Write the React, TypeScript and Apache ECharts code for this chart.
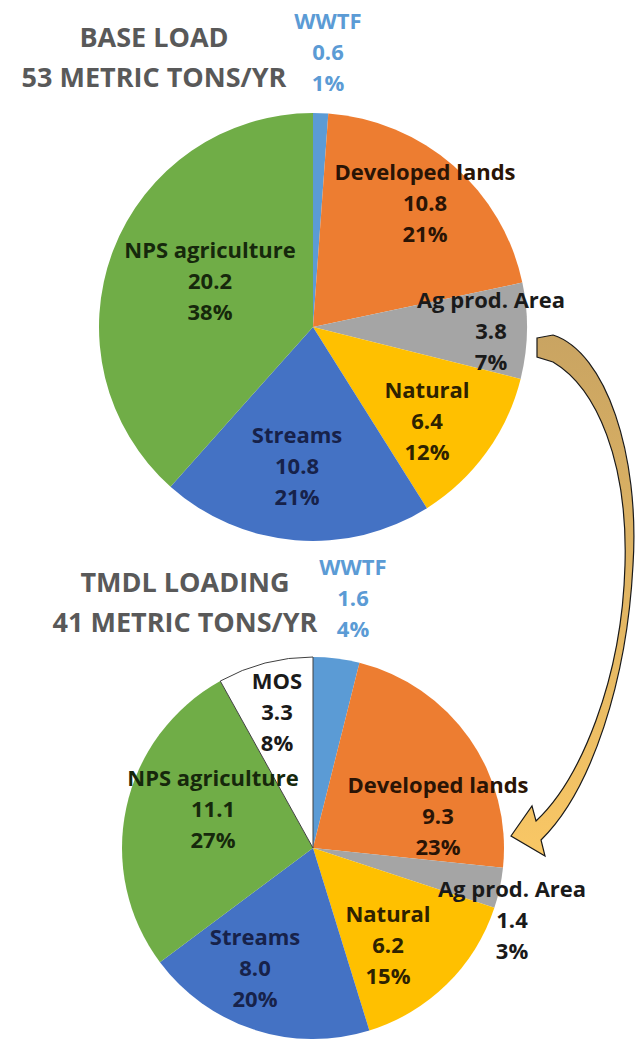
import React, { useEffect, useRef } from "react";
import * as echarts from "echarts";

// ---- data ----
const baseNames = ["WWTF", "Developed lands", "Ag prod. Area", "Natural", "Streams", "NPS agriculture"];
const baseValues = [0.6, 10.8, 3.8, 6.4, 10.8, 20.2];
const tmdlNames = ["WWTF", "Developed lands", "Ag prod. Area", "Natural", "Streams", "NPS agriculture", "MOS"];
const tmdlValues = [1.6, 9.3, 1.4, 6.2, 8.0, 11.1, 3.3];
const baseTitle = ["BASE LOAD", "53 METRIC TONS/YR"];
const tmdlTitle = ["TMDL LOADING", "41 METRIC TONS/YR"];

// ---- styles / layout ----
const sliceColors: Record<string, string> = {
  "WWTF": "#5B9BD5",
  "Developed lands": "#ED7D31",
  "Ag prod. Area": "#A5A5A5",
  "Natural": "#FFC000",
  "Streams": "#4472C4",
  "NPS agriculture": "#70AD47",
  "MOS": "#FFFFFF",
};
const labelColors: Record<string, string> = {
  "WWTF": "#5B9BD5",
  "Developed lands": "#2a1405",
  "Ag prod. Area": "#1a1a1a",
  "Natural": "#2e2200",
  "Streams": "#17224a",
  "NPS agriculture": "#16280c",
  "MOS": "#1a1a1a",
};
// label anchor points (absolute px), per series
const baseLabelPos: number[][] = [[328, 51], [425, 202], [491, 330], [427, 420], [297, 465], [210, 280]];
const tmdlLabelPos: number[][] = [[353, 597], [438, 815], [512, 919], [388, 944], [255, 967], [213, 808], [277, 711]];

const FONT = "'Open Sans', 'Noto Sans', sans-serif";
const ARROW_D =
  "M537 338 L553 335 C606 352 640 455 633 565 C627 680 592 790 541 840 L545 856 L511 836 L532 806 L536 821 C580 780 622 680 625 565 C628 462 597 388 553 362 L537 357 Z";

let registered = false;

function makeSeries(names: string[], values: number[], center: number[], radius: number, pos: number[][]) {
  return {
    type: "pie",
    center,
    radius,
    startAngle: 90,
    clockwise: true,
    silent: true,
    avoidLabelOverlap: false,
    label: {
      show: true,
      position: "inside",
      fontFamily: FONT,
      fontWeight: "bold",
      fontSize: 22,
      lineHeight: 31,
      align: "center",
      verticalAlign: "middle",
      formatter: (p: any) => `${p.name}\n${Number(p.value).toFixed(1)}\n${Math.round(p.percent)}%`,
    },
    labelLine: { show: false },
    labelLayout: (p: any) => {
      const xy = pos[p.dataIndex];
      return { x: xy[0], y: xy[1], align: "center", verticalAlign: "middle" };
    },
    data: names.map((n, i) => ({
      name: n,
      value: values[i],
      itemStyle:
        n === "MOS"
          ? { color: sliceColors[n], borderColor: "#404040", borderWidth: 1 }
          : { color: sliceColors[n], borderWidth: 0 },
      label: { color: labelColors[n] },
    })),
  };
}

function titleText(lines: string[], x: number, y: number, gap: number) {
  return lines.map((t, i) => ({
    type: "text",
    x,
    y: y + i * gap,
    style: {
      text: t,
      align: "center",
      verticalAlign: "middle",
      fill: "#595959",
      font: `bold 27px ${FONT}`,
    },
  }));
}

export default function App() {
  const ref = useRef<HTMLDivElement>(null);
  useEffect(() => {
    document.body.style.margin = "0";
    if (!registered) {
      echarts.graphic.registerShape("curvedArrow", echarts.graphic.extendPath(ARROW_D, {}) as any);
      registered = true;
    }
    const chart = echarts.init(ref.current!, undefined, { renderer: "svg" });
    chart.setOption({
      animation: false,
      backgroundColor: "#ffffff",
      series: [
        makeSeries(baseNames, baseValues, [313, 327], 214, baseLabelPos),
        makeSeries(tmdlNames, tmdlValues, [313, 848], 191, tmdlLabelPos),
      ],
      graphic: [
        ...titleText(baseTitle, 154, 36, 40),
        ...titleText(tmdlTitle, 185, 581, 40),
        {
          type: "curvedArrow",
          x: 0,
          y: 0,
          z: 10,
          style: {
            fill: new echarts.graphic.LinearGradient(0, 0, 0, 1, [
              { offset: 0, color: "#C9A462" },
              { offset: 1, color: "#F9C765" },
            ]),
            stroke: "#1a1a1a",
            lineWidth: 1.2,
          },
        },
      ],
    });
    return () => chart.dispose();
  }, []);
  return <div ref={ref} style={{ position: "absolute", left: 0, top: 0, width: 641, height: 1044 }} />;
}
